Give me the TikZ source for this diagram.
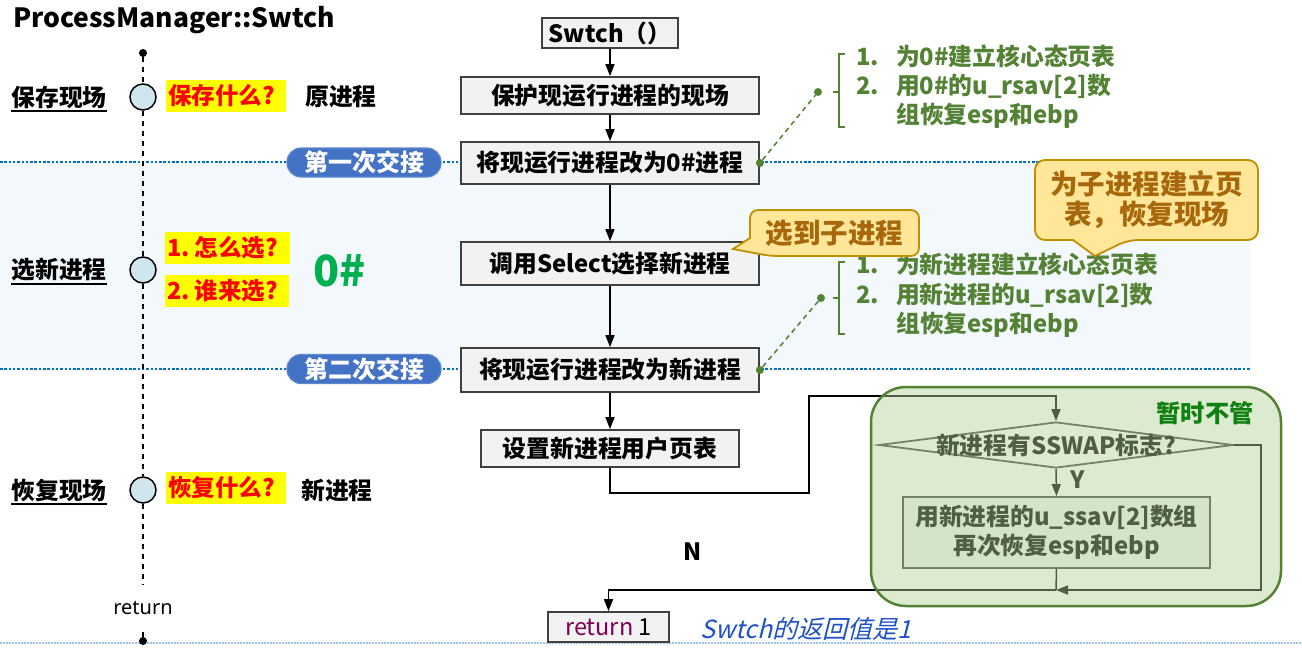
\documentclass[tikz,border=0pt]{standalone}
\usepackage{fontspec}
\setmainfont{Noto Sans CJK SC}
\newfontfamily\hand{Noto Sans CJK SC}[FakeSlant=0.25]
\newfontfamily\latinr{Noto Sans}
\usetikzlibrary{arrows.meta,shapes.geometric,calc}
\definecolor{band}{RGB}{243,248,252}
\definecolor{dotblue}{RGB}{0,112,192}
\definecolor{faintblue}{RGB}{157,195,230}
\definecolor{pillblue}{RGB}{68,114,196}
\definecolor{boxfill}{RGB}{242,242,242}
\definecolor{boxline}{RGB}{64,64,64}
\definecolor{olive}{RGB}{84,130,53}
\definecolor{calfill}{RGB}{255,230,153}
\definecolor{calline}{RGB}{191,144,0}
\definecolor{caltext}{RGB}{166,104,10}
\definecolor{circfill}{RGB}{208,230,238}
\definecolor{hlyellow}{RGB}{255,255,0}
\definecolor{kwpurple}{RGB}{127,0,85}
\definecolor{zerogreen}{RGB}{0,176,80}
\definecolor{grnfill}{RGB}{177,211,151}
\definecolor{grntext}{RGB}{16,128,16}
\definecolor{handblue}{RGB}{30,80,200}
\tikzset{
  base/.style={font=\fontsize{23.8}{29}\selectfont\bfseries},
  flow/.style={base, draw=boxline, line width=1.8pt, fill=boxfill, inner sep=0pt},
  arr/.style={-{Triangle[length=12pt,width=9pt]}, line width=1.5pt},
  conn/.style={line width=1.5pt},
  dotline/.style={dotblue, line width=2pt, dash pattern=on 2.5pt off 1.8pt},
  faintline/.style={faintblue, line width=1.2pt, dash pattern=on 1.5pt off 1.5pt},
  tl/.style={line width=1.5pt, dash pattern=on 5pt off 5pt},
  tcirc/.style={circle, draw, line width=1.5pt, fill=circfill, minimum size=26pt, inner sep=0pt},
  tdot/.style={circle, fill=black, minimum size=8pt, inner sep=0pt},
  lbl/.style={base, inner sep=0pt},
  hl/.style={font=\fontsize{23.5}{28}\selectfont\bfseries, fill=hlyellow, text=red, inner xsep=2pt, inner ysep=0pt, minimum height=32pt, align=left, anchor=west},
  pill/.style={base, font=\fontsize{24}{28}\selectfont\bfseries, fill=pillblue, draw=pillblue!85!white, line width=1.2pt, text=white, rounded corners=14pt, minimum width=154pt, minimum height=29pt, inner sep=0pt},
  gdot/.style={circle, fill=olive, minimum size=8pt, inner sep=0pt},
  gdash/.style={olive, line width=1.5pt, dash pattern=on 5pt off 4pt},
  brk/.style={olive, line width=1.6pt},
  glist/.style={text=olive, font=\fontsize{23.8}{29}\selectfont\bfseries, inner sep=0pt, anchor=west},
  calshape/.style={fill=calfill, draw=calline, line width=1.8pt},
  caltxt/.style={text=caltext, font=\fontsize{27.5}{30}\selectfont\bfseries, align=center},
}
\begin{document}
\begin{tikzpicture}[x=1pt,y=-1pt]
\useasboundingbox (0,0) rectangle (1302,656);
% band and separators
\fill[band] (0,162) rectangle (1250,369);
\draw[dotline] (0,162) -- (1250,162);
\draw[dotline] (0,369) -- (1250,369);
\draw[faintline] (0,643) -- (1302,643);

% title
\node[font=\fontsize{26.5}{30}\selectfont\bfseries, anchor=west, inner sep=0pt] (title) at (13,20) {ProcessManager::Swtch};

% timeline
\node[tdot] (top) at (143,53) {};
\node[tcirc] (c1) at (143,97) {};
\node[tcirc] (c2) at (143,270) {};
\node[tcirc] (c3) at (143,490) {};
\node[font=\latinr\fontsize{20}{24}\selectfont, minimum height=48pt, inner sep=0pt] (retl) at (143,608) {return};
\node[tdot] (bot) at (143,641) {};
\draw[tl] (top) -- (c1);
\draw[tl] (c1) -- (c2);
\draw[tl] (c2) -- (c3);
\draw[tl] (c3) -- (retl.north);
\draw[tl] (retl.south) -- (bot);

% left labels
\node[lbl] (l1) at (59,97) {保存现场};
\node[lbl] (l2) at (59,270) {选新进程};
\node[lbl] (l3) at (59,490) {恢复现场};
\foreach \n in {l1,l2,l3} \draw[line width=1.8pt] ($(\n.south west)+(0,2.5)$) -- ($(\n.south east)+(0,2.5)$);

% highlighted questions
\node[hl, text width=116pt] (q1) at (166,95.5) {保存什么?};
\node[hl, text width=121pt] (q2) at (165,248) {1.\hspace{5pt}怎么选?};
\node[hl, text width=120pt] (q3) at (165,291) {2.\hspace{5pt}谁来选?};
\node[hl, text width=116pt] (q4) at (166,487.5) {恢复什么?};
\node[lbl] (orig) at (341,97) {原进程};
\node[lbl] (newp) at (337,490) {新进程};
\node[lbl, text=zerogreen, font=\fontsize{43}{46}\selectfont\bfseries] (zero) at (339.5,271) {0\#};

% pills
\node[pill] (p1) at (364,162.5) {第一次交接};
\node[pill] (p2) at (364,369) {第二次交接};

% main flow
\node[flow, minimum width=136pt, minimum height=30pt] (sw) at (610,33) {Swtch（）};
\node[flow, minimum width=298pt, minimum height=37pt] (save) at (610,95.5) {保护现运行进程的现场};
\node[flow, minimum width=298pt, minimum height=42pt] (to0) at (610,163) {将现运行进程改为0\#进程};
\node[flow, minimum width=298pt, minimum height=43pt] (sel) at (610,263.5) {调用Select选择新进程};
\node[flow, minimum width=298pt, minimum height=44pt] (tonew) at (610,370) {将现运行进程改为新进程};
\node[flow, minimum width=258pt, minimum height=37pt] (setpt) at (610,448.5) {设置新进程用户页表};
\node[flow, font=\fontsize{23.5}{28}\selectfont, minimum width=121pt, minimum height=30pt] (ret) at (608.5,627) {\textcolor{kwpurple}{return} 1};
\draw[arr] (sw) -- (save);
\draw[arr] (save) -- (to0);
\draw[arr] (to0) -- (sel);
\draw[arr] (sel) -- (tonew);
\draw[arr] (tonew) -- (setpt);

% SSWAP part
\node[draw=boxline, line width=1.8pt, diamond, minimum width=354pt, minimum height=46pt, inner sep=0pt, aspect=7.7,
      label={[base, inner sep=0pt]center:新进程有SSWAP标志?}] (dia) at (1056,445) {};
\node[flow, align=center, font=\fontsize{23.8}{29}\selectfont\bfseries, minimum width=307pt, minimum height=71pt] (u) at (1056.5,532.5) {用新进程的u\_ssav[2]数组\\再次恢复esp和ebp};
\coordinate (jA) at (809,493);
\coordinate (jB) at (809,396);
\coordinate (jC) at (1056,396);
\coordinate (jD) at (1261,445);
\coordinate (jE) at (1261,590);
\coordinate (m) at (1056,590);
\draw[arr] (setpt.south) |- (jA) -- (jB) -- (jC) -- (dia.north);
\draw[arr] (dia.south) -- (u.north);
\node[base] (ylab) at (1078,480) {Y};
\draw[arr] (dia.east) -- (jD) -- (jE) -- (m);
\draw[conn] (u.south) -- (m);
\draw[arr] (m) -| (ret.north);
\node[base] (nlab) at (693,552) {N};

% container overlay
\node[draw=olive, line width=2.5pt, fill=grnfill, fill opacity=0.45, rounded corners=35pt, minimum width=410pt, minimum height=219pt] (cont) at (1076,496.5) {};
\node[base, font=\fontsize{24.3}{29}\selectfont\bfseries, text=grntext] (ignore) at (1205,413) {暂时不管};

% green annotations
\node[gdot] (d1a) at (to0.east) {};
\node[gdot] (d1b) at (818,92) {};
\draw[gdash] (d1a) -- (d1b);
\draw[brk] (845,54) -- (839,54) -- (839,127) -- (845,127);
\draw[brk] (839,92) -- (833,92);
\node[glist] (list1) at (856,88.5) {\begin{tabular}{@{}p{40pt}@{}l@{}}1. & 为0\#建立核心态页表\\ 2. & 用0\#的u\_rsav[2]数\\ & 组恢复esp和ebp\end{tabular}};

\node[gdot] (d2a) at (tonew.east) {};
\node[gdot] (d2b) at (821,298) {};
\draw[gdash] (d2a) -- (d2b);
\draw[brk] (845,262) -- (839,262) -- (839,334) -- (845,334);
\draw[brk] (839,298) -- (833,298);
\node[glist] (list2) at (856,297) {\begin{tabular}{@{}p{40pt}@{}l@{}}1. & 为新进程建立核心态页表\\ 2. & 用新进程的u\_rsav[2]数\\ & 组恢复esp和ebp\end{tabular}};

% callouts
\draw[calshape, rounded corners=8pt] (750,210) -- (919,210) -- (919,256) -- (770,256) [sharp corners] -- (733,249) -- (750,238) [rounded corners=8pt] -- cycle;
\node[caltxt] (cal1) at (834.5,233) {选到子进程};
\draw[calshape, rounded corners=10pt] (1035,160) -- (1258,160) -- (1258,240) -- (1128,240) [sharp corners] -- (1095,256) -- (1073,240) [rounded corners=10pt] -- (1035,240) -- cycle;
\node[caltxt] (cal2) at (1146.5,200) {为子进程建立页\\表，恢复现场};

% handwriting note
\node[text=handblue, font=\hand\fontsize{25}{28}\selectfont, inner sep=0pt] (hw) at (806,629) {Swtch的返回值是1};
\end{tikzpicture}
\end{document}
